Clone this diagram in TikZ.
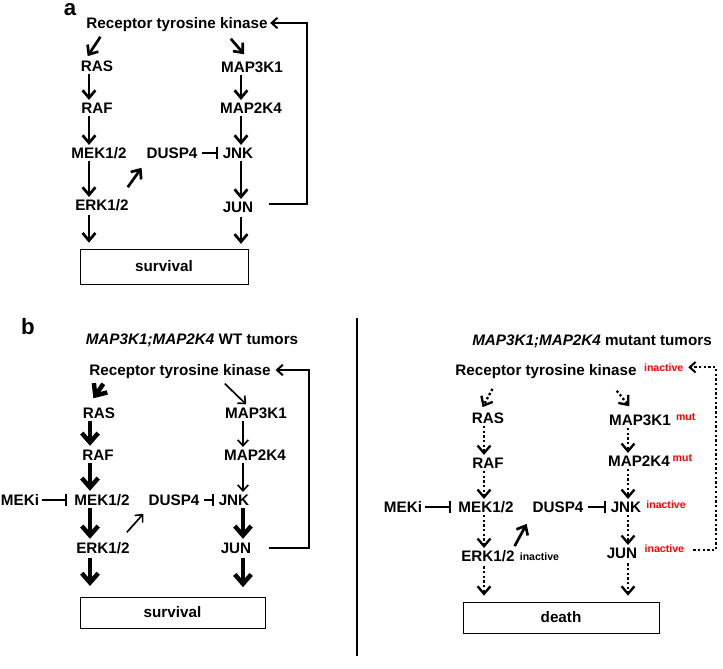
\documentclass[tikz,border=0pt]{standalone}
\usepackage{fontspec}
\setmainfont{Liberation Sans}
\usepackage{xcolor}
\usepackage{tikz}
\usetikzlibrary{arrows.meta, calc}

\begin{document}
\begin{tikzpicture}[x=0.03cm, y=-0.03cm,
    gene/.style={font=\bfseries\fontsize{13}{15}\selectfont, inner sep=1pt, text height=9.3pt, text depth=0pt},
    panel/.style={font=\bfseries\fontsize{19}{21}\selectfont, inner sep=0pt},
    title/.style={font=\bfseries\fontsize{13}{15}\selectfont, inner sep=1pt},
    note/.style={anchor=north west, inner sep=0pt, xshift=3pt, font=\bfseries\fontsize{9}{10}\selectfont},
    outbox/.style={draw, line width=0.8pt, inner sep=0pt, font=\bfseries\fontsize{13}{15}\selectfont},
    arr/.style={line width=2.3pt, shorten <=1pt, shorten >=1pt, -{Straight Barb[length=6.5pt, width=11pt]}},
    slim/.style={line width=1.4pt, shorten <=1pt, shorten >=1pt, -{Straight Barb[length=5pt, width=9pt]}},
    fat/.style={line width=3.8pt, shorten <=1pt, shorten >=2pt, -{Straight Barb[length=8pt, width=14pt]}},
    dotarr/.style={arr, line width=2pt, dash pattern=on 2pt off 2pt},
    inh/.style={line width=1.7pt, shorten <=3pt, shorten >=3pt, -{Bar[width=11pt]}},
    fb/.style={line width=1.7pt, -{Straight Barb[length=5pt, width=9pt]}}]
    \useasboundingbox (0,0) rectangle (723,669);

    % ---------- panel a ----------
    \node[panel] (a) at (70,10) {a};
    \node[gene] (rtkA)  at (177,23)  {Receptor tyrosine kinase};
    \node[gene] (rasA)  at (97,66)   {RAS};
    \node[gene] (rafA)  at (97,108)  {RAF};
    \node[gene] (mekA)  at (99,153)  {MEK1/2};
    \node[gene] (erkA)  at (102,205) {ERK1/2};
    \node[gene] (duspA) at (172,153) {DUSP4};
    \node[gene] (m3A)   at (252,67)  {MAP3K1};
    \node[gene] (m2A)   at (251,108) {MAP2K4};
    \node[gene] (jnkA)  at (238,153) {JNK};
    \node[gene] (junA)  at (238,207) {JUN};
    \node[outbox, minimum width=5.04cm, minimum height=1.05cm] (survA) at (164,266.5) {survival};
    \coordinate (colAl) at (89,0);
    \coordinate (colAr) at (241,0);

    \draw[arr] ($(rtkA.south west)+(16,6)$) -- ($(rasA.north)+(-10,-2)$);
    \draw[arr] (rasA.south -| colAl) -- (rafA.north -| colAl);
    \draw[arr] (rafA.south -| colAl) -- (mekA.north -| colAl);
    \draw[arr] (mekA.south -| colAl) -- (erkA.north -| colAl);
    \draw[arr, shorten <=3pt, shorten >=5pt] (erkA.south -| colAl) -- (survA.north -| colAl);
    \draw[arr] ($(erkA.north east)+(-3,-10)$) -- ($(duspA.south west)+(-3,7)$);
    \draw[inh] (duspA.east) -- (jnkA.west);
    \draw[arr] ($(rtkA.south east)+(-39,8)$) -- ($(m3A.north)+(-7,-5)$);
    \draw[arr] (m3A.south -| colAr) -- (m2A.north -| colAr);
    \draw[arr] (m2A.south -| colAr) -- (jnkA.north -| colAr);
    \draw[arr] (jnkA.south -| colAr) -- (junA.north -| colAr);
    \draw[arr, shorten <=3pt, shorten >=4pt] (junA.south -| colAr) -- (survA.north -| colAr);
    \draw[fb, shorten >=1pt] ($(junA.east)+(14,-3)$) -- ++(38,0) |- (rtkA.east);

    % ---------- panel b ----------
    \node[panel] (b) at (28,327) {b};
    \node[title] (titleB) at (192,340) {\textit{MAP3K1;MAP2K4} WT tumors};
    \node[gene] (rtkB)  at (180,370) {Receptor tyrosine kinase};
    \node[gene] (rasB)  at (99,413)  {RAS};
    \node[gene] (rafB)  at (98,455)  {RAF};
    \node[gene] (mekB)  at (102,500) {MEK1/2};
    \node[gene] (mekiB) at (20,500)  {MEKi};
    \node[gene] (erkB)  at (103,548) {ERK1/2};
    \node[gene] (duspB) at (174,500) {DUSP4};
    \node[gene] (m3B)   at (256,413) {MAP3K1};
    \node[gene] (m2B)   at (255,455) {MAP2K4};
    \node[gene] (jnkB)  at (234,500) {JNK};
    \node[gene] (junB)  at (236,548) {JUN};
    \node[outbox, minimum width=5.55cm, minimum height=0.93cm] (survB) at (172.5,612.5) {survival};
    \coordinate (colBl) at (90,0);
    \coordinate (colBr) at (243,0);

    \draw[fat] ($(rtkB.south west)+(16,6)$) -- ($(rasB.north)+(-7,-6)$);
    \draw[fat] (rasB.south -| colBl) -- (rafB.north -| colBl);
    \draw[fat] (rafB.south -| colBl) -- (mekB.north -| colBl);
    \draw[fat] (mekB.south -| colBl) -- (erkB.north -| colBl);
    \draw[fat, shorten <=3pt, shorten >=9pt] (erkB.south -| colBl) -- (survB.north -| colBl);
    \draw[inh, shorten <=1pt, shorten >=5pt] (mekiB.east) -- (mekB.west);
    \draw[slim] ($(erkB.north east)+(-5,-8)$) -- ($(duspB.south west)+(-3,6)$);
    \draw[inh] (duspB.east) -- (jnkB.west);
    \draw[slim] ($(rtkB.south east)+(-48,6)$) -- ($(m3B.north)+(-9,-1)$);
    \draw[slim] (m3B.south -| colBr) -- (m2B.north -| colBr);
    \draw[slim] (m2B.south -| colBr) -- (jnkB.north -| colBr);
    \draw[fat] (jnkB.south -| colBr) -- (junB.north -| colBr);
    \draw[fat, shorten <=3pt, shorten >=8pt] (junB.south -| colBr) -- (survB.north -| colBr);
    \draw[fb, shorten >=3pt] ($(junB.east)+(16,0)$) -- ++(40,0) |- (rtkB.east);

    % divider
    \draw[line width=1.3pt] (357,318) -- (357,656);

    % ---------- panel c ----------
    \node[title] (titleC) at (592,341) {\textit{MAP3K1;MAP2K4} mutant tumors};
    \node[gene, label={[note, red, name=rtkCx, xshift=2pt]north east:inactive}] (rtkC) at (546,370) {Receptor tyrosine kinase};
    \node[gene] (rasC)  at (488,418) {RAS};
    \node[gene] (rafC)  at (488,463) {RAF};
    \node[gene] (mekC)  at (486,507) {MEK1/2};
    \node[gene] (mekiC) at (403,507) {MEKi};
    \node[gene, label={[note, yshift=-3pt]north east:inactive}] (erkC) at (488,556) {ERK1/2};
    \node[gene] (duspC) at (558,507) {DUSP4};
    \node[gene, label={[note, red]north east:mut}] (m3C) at (640,420) {MAP3K1};
    \node[gene, label={[note, red, xshift=-2pt]north east:mut}] (m2C) at (639,461) {MAP2K4};
    \node[gene, label={[note, red]north east:inactive}] (jnkC) at (626,507) {JNK};
    \node[gene, label={[note, red, name=junCx, xshift=2pt, yshift=1pt]north east:inactive}] (junC) at (622,553) {JUN};
    \node[outbox, minimum width=5.88cm, minimum height=0.93cm] (deathC) at (561,617.5) {death};
    \coordinate (colCl) at (484,0);
    \coordinate (colCr) at (628,0);
    \coordinate (fbC) at (716,0);

    \draw[dotarr] ($(rtkC.south west)+(39,11)$) -- ($(rasC.north)+(-6,-3)$);
    \draw[dotarr] (rasC.south -| colCl) -- (rafC.north -| colCl);
    \draw[dotarr] (rafC.south -| colCl) -- (mekC.north -| colCl);
    \draw[dotarr] (mekC.south -| colCl) -- (erkC.north -| colCl);
    \draw[dotarr, shorten <=3pt, shorten >=5pt] (erkC.south -| colCl) -- (deathC.north -| colCl);
    \draw[inh, shorten <=1pt, shorten >=5pt] (mekiC.east) -- (mekC.west);
    \draw[arr] ($(erkC.north east)+(-2,-2)$) -- ($(duspC.south west)+(-4,9)$);
    \draw[inh] (duspC.east) -- (jnkC.west);
    \draw[dotarr] ($(rtkC.south east)+(-22,13)$) -- ($(m3C.north)+(-10,-6)$);
    \draw[dotarr] (m3C.south -| colCr) -- (m2C.north -| colCr);
    \draw[dotarr] (m2C.south -| colCr) -- (jnkC.north -| colCr);
    \draw[dotarr] (jnkC.south -| colCr) -- (junC.north -| colCr);
    \draw[dotarr, shorten <=3pt, shorten >=5pt] (junC.south -| colCr) -- (deathC.north -| colCr);
    \draw[fb, dash pattern=on 2pt off 2pt, shorten >=4pt] ($(junCx.east)+(9,1)$) -| (fbC |- rtkCx.east) -- (rtkCx.east);
\end{tikzpicture}
\end{document}
